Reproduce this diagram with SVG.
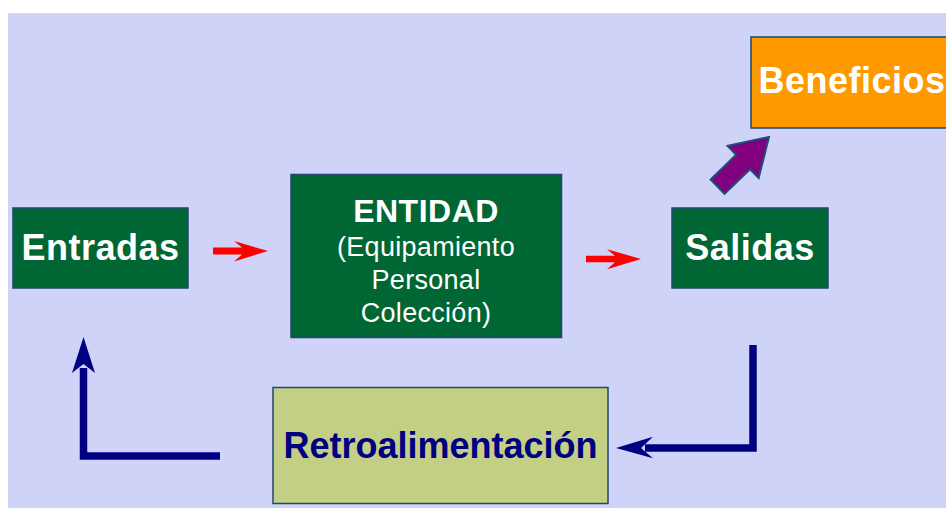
<svg xmlns="http://www.w3.org/2000/svg" width="946" height="508" viewBox="0 0 946 508">
<style>
.box{stroke:#23466f;stroke-width:1.5}
.green{fill:#006633}
.t{font-family:"Liberation Sans",Arial,sans-serif;font-weight:bold;font-size:36px;fill:#ffffff;text-anchor:middle;letter-spacing:0.5px}
.s{font-family:"Liberation Sans",Arial,sans-serif;font-size:27px;fill:#ffffff;text-anchor:middle;letter-spacing:0.3px}
.red{fill:#ff0000}
.navy{fill:none;stroke:#000080;stroke-width:7.5}
.navyhead{fill:#000080}
</style>
<rect x="0" y="0" width="946" height="508" fill="#ffffff"/>
<rect x="8" y="13" width="938" height="495" fill="#ced3f7"/>
<g id="connectors">
  <polygon class="red" points="213,247.5 242,247.5 234,241 268,251 234,261.5 242,254.5 213,254.5"/>
  <polygon class="red" points="586,255.7 615,255.7 607,249.3 641,259 607,269.3 615,262.3 586,262.3"/>
  <polygon fill="#800080" stroke="#1f4e79" stroke-width="2" stroke-linejoin="miter" points="0,0 -36,-22.4 -36,-10 -71.5,-10 -71.5,10 -36,10 -36,22.4" transform="translate(769,137) rotate(-44)"/>
  <polyline class="navy" points="753,345 753,448 645,448"/>
  <polygon class="navyhead" points="616,448 653,436.7 641,448 653,458.3"/>
  <polyline class="navy" points="220,456 83.5,456 83.5,368"/>
  <polygon class="navyhead" points="83.5,337 95,373 83.5,364 72,373"/>
</g>
<g id="entradas">
  <rect class="box green" x="13" y="208" width="175" height="80"/>
  <text class="t" x="100.5" y="260">Entradas</text>
</g>
<g id="entidad">
  <rect class="box green" x="291" y="174.5" width="270.5" height="163"/>
  <text class="t" x="426" y="222" style="font-size:32px">ENTIDAD</text>
  <text class="s" x="426" y="256">(Equipamiento</text>
  <text class="s" x="426" y="289">Personal</text>
  <text class="s" x="426" y="322">Colección)</text>
</g>
<g id="salidas">
  <rect class="box green" x="672" y="208" width="156" height="80"/>
  <text class="t" x="750" y="260">Salidas</text>
</g>
<g id="beneficios">
  <rect class="box" fill="#ff9900" x="751" y="37" width="200" height="91"/>
  <text class="t" x="852" y="93">Beneficios</text>
</g>
<g id="retroalimentacion">
  <rect class="box" fill="#c2cf84" x="273" y="387.5" width="335" height="116"/>
  <text class="t" x="440.5" y="458" style="fill:#000080;letter-spacing:0">Retroalimentación</text>
</g>
</svg>
